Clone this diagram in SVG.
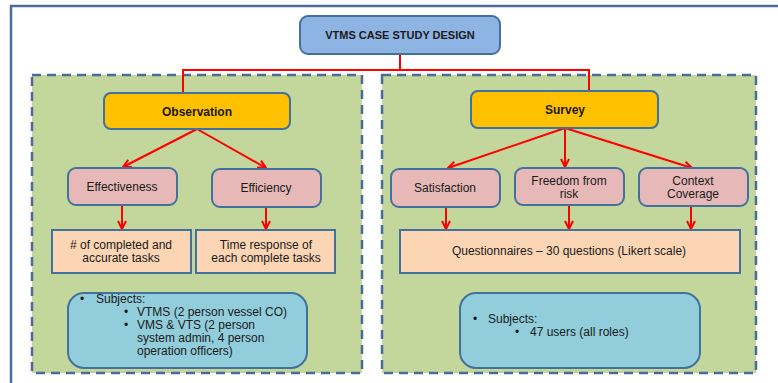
<svg xmlns="http://www.w3.org/2000/svg" width="778" height="383" viewBox="0 0 778 383">
<defs>
<style>
.frame{fill:none;stroke:#4A6C9B;stroke-width:2.5}
.panel{fill:#C3D69B;stroke:#4A6C9B;stroke-width:2.5;stroke-dasharray:9 6}
.box{stroke:#41719C;stroke-width:2}
.title{fill:#8EB4E3}
.main{fill:#FFC000}
.pink{fill:#E6B9B8}
.peach{fill:#FCD5B5}
.subj{fill:#92CDDC}
text{font-family:"Liberation Sans",Arial,sans-serif;font-size:12px;fill:#1a1a1a}
.c{text-anchor:middle}
.b{font-weight:bold}
.conn{fill:none;stroke:#FF0000;stroke-width:2}
.arr{marker-end:url(#ah)}
</style>
<marker id="ah" viewBox="0 0 10 10" refX="9" refY="5" markerWidth="10" markerHeight="10" markerUnits="userSpaceOnUse" orient="auto">
<path d="M1,1 L9,5 L1,9" fill="none" stroke="#FF0000" stroke-width="2"/>
</marker>
</defs>
<rect width="778" height="383" fill="#FFFFFF"/>
<path class="frame" d="M11 383 V6 H778"/>
<g id="panel-observation"><rect class="panel" x="32" y="75" width="330" height="298"/></g>
<g id="panel-survey"><rect class="panel" x="382" y="75" width="374" height="298"/></g>
<g id="connectors">
<path class="conn" d="M400 54 V70 H183 V93"/>
<path class="conn" d="M400 70 H589 V91"/>
<path class="conn arr" d="M197 129 L123 167"/>
<path class="conn arr" d="M197 129 L266 168"/>
<path class="conn arr" d="M565 128 L448 168"/>
<path class="conn arr" d="M565 128 L565 167"/>
<path class="conn arr" d="M565 128 L692 168"/>
<path class="conn arr" d="M122 205 V229"/>
<path class="conn arr" d="M266 207 V229"/>
<path class="conn arr" d="M446 207 V229"/>
<path class="conn arr" d="M569 205 V229"/>
<path class="conn arr" d="M691 206 V229"/>
</g>
<g id="title"><rect class="box title" x="300" y="16" width="200" height="38" rx="8"/><text class="c b" x="400" y="39" style="font-size:11px">VTMS CASE STUDY DESIGN</text></g>
<g id="observation"><rect class="box main" x="104" y="93" width="186" height="36" rx="7"/><text class="c b" x="197" y="116">Observation</text></g>
<g id="survey"><rect class="box main" x="471" y="91" width="187" height="37" rx="7"/><text class="c b" x="565" y="114">Survey</text></g>
<g id="effectiveness"><rect class="box pink" x="68" y="168" width="109" height="37" rx="8"/><text class="c" x="122" y="191">Effectiveness</text></g>
<g id="efficiency"><rect class="box pink" x="212" y="169" width="109" height="38" rx="8"/><text class="c" x="266" y="192">Efficiency</text></g>
<g id="satisfaction"><rect class="box pink" x="391" y="169" width="109" height="38" rx="8"/><text class="c" x="445" y="192">Satisfaction</text></g>
<g id="freedom"><rect class="box pink" x="515" y="168" width="109" height="37" rx="8"/><text class="c" x="569" y="185">Freedom  from</text><text class="c" x="569" y="198">risk</text></g>
<g id="context"><rect class="box pink" x="639" y="168" width="109" height="38" rx="8"/><text class="c" x="693" y="185">Context</text><text class="c" x="693" y="198">Coverage</text></g>
<g id="completed"><rect class="box peach" x="52" y="230" width="139" height="43"/><text class="c" x="121" y="249">#  of completed  and</text><text class="c" x="121" y="262">accurate tasks</text></g>
<g id="time"><rect class="box peach" x="196" y="230" width="139" height="43"/><text class="c" x="266" y="249">Time response  of</text><text class="c" x="266" y="262">each complete tasks</text></g>
<g id="questionnaires"><rect class="box peach" x="400" y="230" width="340" height="43"/><text class="c" x="569" y="255">Questionnaires – 30 questions (Likert scale)</text></g>
<g id="subjects-observation"><rect class="box subj" x="68" y="293" width="239" height="75" rx="16"/>
<text x="80" y="303">•</text><text x="96" y="303">Subjects:</text>
<text x="124" y="316">•</text><text x="137" y="316">VTMS (2 person vessel CO)</text>
<text x="124" y="329">•</text><text x="137" y="329">VMS &amp; VTS (2 person</text>
<text x="137" y="342">system admin, 4 person</text>
<text x="137" y="355">operation officers)</text></g>
<g id="subjects-survey"><rect class="box subj" x="460" y="293" width="240" height="75" rx="16"/>
<text x="473" y="323">•</text><text x="488" y="323">Subjects:</text>
<text x="515" y="336">•</text><text x="530" y="336">47 users (all roles)</text></g>
</svg>
